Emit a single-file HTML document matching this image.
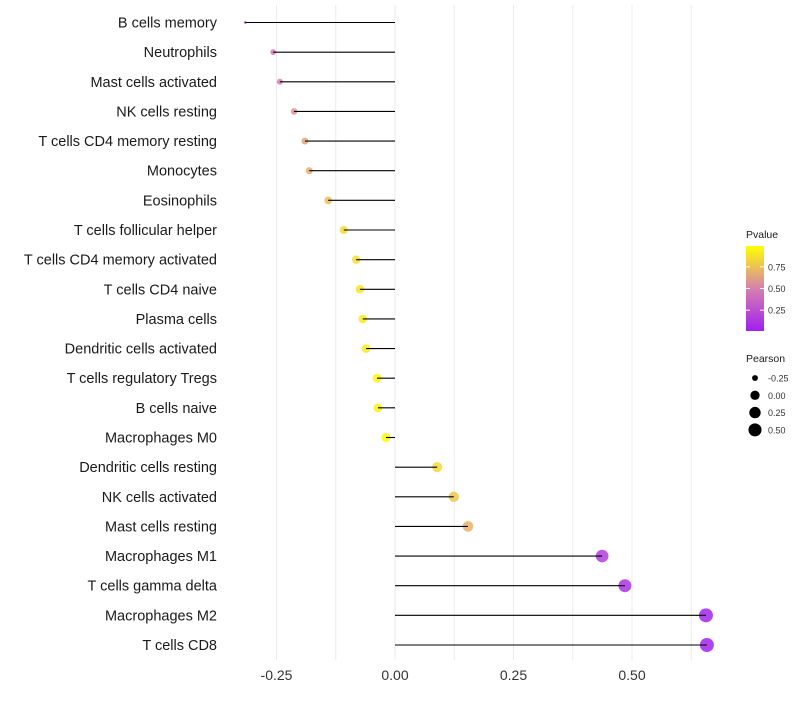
<!DOCTYPE html>
<html><head><meta charset="utf-8"><style>
body{margin:0;background:#fff;font-family:"Liberation Sans",sans-serif}
</style></head><body>
<svg id="c" width="800" height="700" font-family="Liberation Sans, sans-serif"></svg>
<script>
const categories=["B cells memory","Neutrophils","Mast cells activated","NK cells resting","T cells CD4 memory resting","Monocytes","Eosinophils","T cells follicular helper","T cells CD4 memory activated","T cells CD4 naive","Plasma cells","Dendritic cells activated","T cells regulatory  Tregs","B cells naive","Macrophages M0","Dendritic cells resting","NK cells activated","Mast cells resting","Macrophages M1","T cells gamma delta","Macrophages M2","T cells CD8"];
const pearson=[-0.316,-0.257,-0.243,-0.213,-0.190,-0.181,-0.141,-0.108,-0.082,-0.074,-0.068,-0.061,-0.038,-0.036,-0.019,0.089,0.124,0.154,0.437,0.485,0.656,0.658];
const pvalue=[0.38,0.45,0.50,0.58,0.64,0.68,0.75,0.85,0.87,0.90,0.92,0.92,0.97,0.96,0.99,0.85,0.78,0.70,0.15,0.10,0.02,0.02];
const xTicks=[-0.25,0,0.25,0.5];
const xTickLabels=["-0.25","0.00","0.25","0.50"];
const pTicks=[0.25,0.5,0.75];
const sizeTicks=[-0.25,0,0.25,0.5];
const NS="http://www.w3.org/2000/svg";
const svg=document.getElementById('c');
function el(t,a,p){const e=document.createElementNS(NS,t);for(const k in a)e.setAttribute(k,a[k]);(p||svg).appendChild(e);return e;}
const x=v=>395+v*474;
const y=i=>22.5+i*(622.5/21);
const pmin=Math.min(...pearson),pmax=Math.max(...pearson);
const r=v=>1.5+5.5*Math.sqrt(Math.max(0,(v-pmin)/(pmax-pmin)));
function lerp(a,b,t){return a.map((v,i)=>Math.round(v+(b[i]-v)*t));}
function col(p){const s=[[160,32,240],[214,128,175],[255,255,0]];let c=p<0.5?lerp(s[0],s[1],p/0.5):lerp(s[1],s[2],(p-0.5)/0.5);return `rgb(${c})`;}
for(let v=-0.25;v<=0.66;v+=0.125){const g=el('line',{x1:x(v),x2:x(v),y1:5,y2:660,stroke:'#ebebeb','stroke-width':1});
}
xTicks.forEach((v,i)=>{const t=el('text',{x:x(v),y:680,'text-anchor':'middle','font-size':14,fill:'#333'});t.textContent=xTickLabels[i];
});
categories.forEach((c,i)=>{
const t=el('text',{x:217,y:y(i)+5,'text-anchor':'end','font-size':14.5,fill:'#1a1a1a'});t.textContent=c;

const d=el('circle',{cx:x(pearson[i]),cy:y(i),r:r(pearson[i]),fill:col(pvalue[i]),opacity:0.85});

const l=el('line',{x1:x(0),x2:x(pearson[i]),y1:y(i),y2:y(i),stroke:'#000','stroke-width':1.1});

});
const lt=el('text',{x:746,y:238,'font-size':10.5,fill:'#1a1a1a'});lt.textContent='Pvalue';

const defs=el('defs',{});const gr=el('linearGradient',{id:'g',x1:0,y1:1,x2:0,y2:0},defs);
for(let k=0;k<=10;k++)el('stop',{offset:k/10,'stop-color':col(k/10)},gr);
const bar=el('rect',{x:746,y:246,width:18,height:85,fill:'url(#g)'});

const py=p=>331-(p-0.01)/(0.98)*85;
pTicks.forEach(p=>{const t=el('text',{x:768,y:py(p)+3.5,'font-size':9,fill:'#333'});t.textContent=p.toFixed(2);

el('line',{x1:746,x2:750,y1:py(p),y2:py(p),stroke:'#fff'});el('line',{x1:760,x2:764,y1:py(p),y2:py(p),stroke:'#fff'});});
const st=el('text',{x:746,y:362,'font-size':10.5,fill:'#1a1a1a'});st.textContent='Pearson';

sizeTicks.forEach((v,i)=>{const cy=378+i*17.3;
const d=el('circle',{cx:755,cy:cy,r:r(v),fill:'#000'});
const t=el('text',{x:768,y:cy+3.5,'font-size':9,fill:'#333'});t.textContent=v.toFixed(2);
});
</script>
</body></html>
